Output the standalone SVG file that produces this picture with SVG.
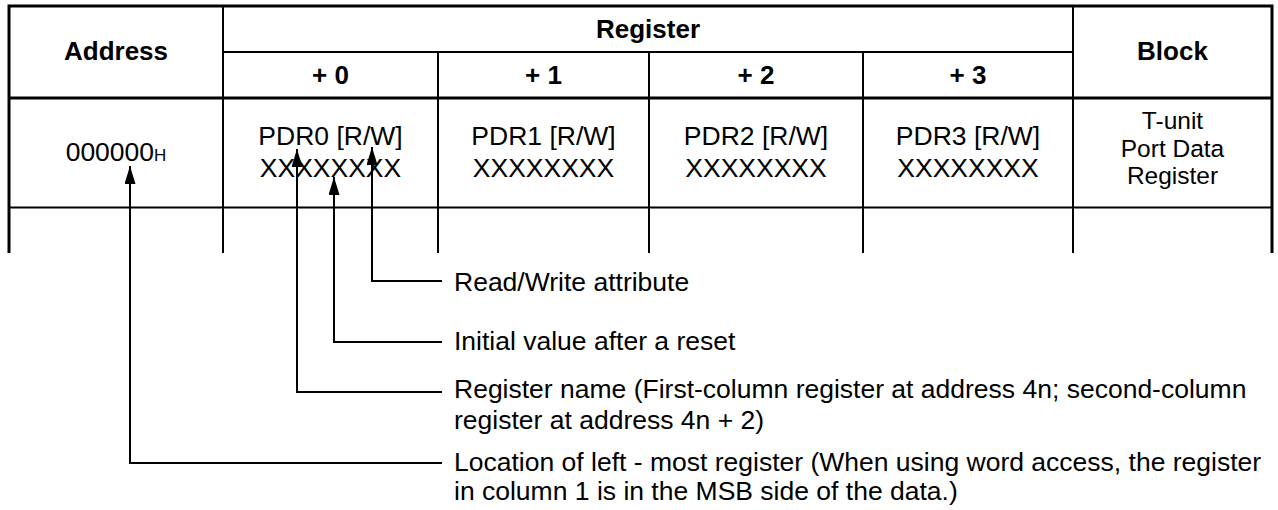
<svg xmlns="http://www.w3.org/2000/svg" width="1278" height="510" viewBox="0 0 1278 510">
<style>
.t{font-family:"Liberation Sans",Arial,sans-serif;font-size:26.5px;fill:#000}
.b{font-weight:bold;font-size:26px}
.c{text-anchor:middle}
.blk{font-size:24.5px}
.thick{stroke:#000;stroke-width:3;fill:none}
.thin{stroke:#000;stroke-width:2;fill:none}
.conn{stroke:#000;stroke-width:2;fill:none;marker-end:url(#ah)}
</style>
<defs>
<marker id="ah" markerUnits="userSpaceOnUse" markerWidth="18" markerHeight="11" refX="18" refY="5.5" orient="auto">
<path d="M0,0 L18,5.5 L0,11 z" fill="#000"/>
</marker>
</defs>
<rect width="1278" height="510" fill="#fff"/>
<g id="table">
<path class="thick" d="M9,253 V6 H1272 V253"/>
<path class="thick" d="M9,98 H1272"/>
<path class="thin" d="M9,207.5 H1272"/>
<path class="thin" d="M222,52 H1073"/>
<path class="thin" d="M223,6 V253 M438,52 V253 M649,52 V253 M863,52 V253 M1073,6 V253"/>
</g>
<g id="header">
<text class="t b c" x="116" y="60">Address</text>
<text class="t b c" x="648" y="38">Register</text>
<text class="t b c" x="330.5" y="84">+ 0</text>
<text class="t b c" x="543.5" y="84">+ 1</text>
<text class="t b c" x="756" y="84">+ 2</text>
<text class="t b c" x="968" y="84">+ 3</text>
<text class="t b c" x="1172.5" y="60">Block</text>
</g>
<g id="address-cell"><text class="t c" x="116" y="161">000000<tspan font-size="17">H</tspan></text></g>
<g id="pdr0"><text class="t c" x="330.5" y="145">PDR0 [R/W]</text><text class="t c" x="330.5" y="177">XXXXXXXX</text></g>
<g id="pdr1"><text class="t c" x="543.5" y="145">PDR1 [R/W]</text><text class="t c" x="543.5" y="177">XXXXXXXX</text></g>
<g id="pdr2"><text class="t c" x="756" y="145">PDR2 [R/W]</text><text class="t c" x="756" y="177">XXXXXXXX</text></g>
<g id="pdr3"><text class="t c" x="968" y="145">PDR3 [R/W]</text><text class="t c" x="968" y="177">XXXXXXXX</text></g>
<g id="block-cell">
<text class="t c blk" x="1172.5" y="129">T-unit</text>
<text class="t c blk" x="1172.5" y="156.5">Port Data</text>
<text class="t c blk" x="1172.5" y="184">Register</text>
</g>
<g id="connectors">
<path class="conn" d="M442,281 H372 V147"/>
<path class="conn" d="M442,342 H334 V177"/>
<path class="conn" d="M442,392 H297 V149"/>
<path class="conn" d="M442,463 H130 V166"/>
</g>
<g id="legend-rw"><text class="t" x="454" y="290.5">Read/Write attribute</text></g>
<g id="legend-init"><text class="t" x="454" y="350">Initial value after a reset</text></g>
<g id="legend-name">
<text class="t" x="454" y="398">Register name (First-column register at address 4n; second-column</text>
<text class="t" x="454" y="428.5">register at address 4n + 2)</text>
</g>
<g id="legend-loc">
<text class="t" x="454" y="471">Location of left - most register (When using word access, the register</text>
<text class="t" x="454" y="500">in column 1 is in the MSB side of the data.)</text>
</g>
</svg>
